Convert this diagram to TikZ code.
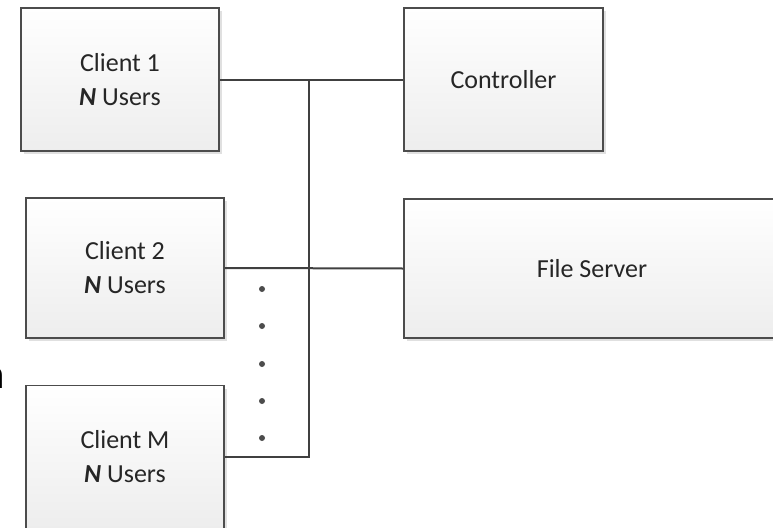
\documentclass[tikz,border=0pt]{standalone}
\usepackage{fontspec}
\setmainfont{Carlito}
\newfontfamily\edgefont{Liberation Sans}
\usetikzlibrary{positioning,shadows}

\begin{document}
\begin{tikzpicture}[x=1pt,y=-1pt,
	box/.style = {draw=black!70, line width=1.8pt, top color=white, bottom color=black!7,
		drop shadow={shadow xshift=3pt, shadow yshift=-3pt, fill=black!20, opacity=0.6},
		align=center, text=black!85, font=\fontsize{26}{34}\selectfont, inner sep=0pt},
	wire/.style = {draw=black!75, line width=2pt},
	dot/.style = {circle, fill=black!70, inner sep=0pt, minimum size=6pt}]
	\useasboundingbox (0,0) rectangle (773,527);
	\node[box, minimum width=198pt, minimum height=143pt] (c1) at (120,79.5) {Client 1\\\textbf{\textit{N}} Users};
	\node[box, minimum width=198pt, minimum height=140pt] (c2) at (125,268) {Client 2\\\textbf{\textit{N}} Users};
	\node[box, minimum width=198pt, minimum height=143pt] (cm) at (125,457) {Client M\\\textbf{\textit{N}} Users};
	\node[box, minimum width=199pt, minimum height=143pt] (ctrl) at (503.5,79.5) {Controller};
	\node[box, minimum width=376pt, minimum height=139pt] (fs) at (592,268.5) {File Server};
	\node[anchor=base east, inner sep=0pt, font=\edgefont\bfseries\fontsize{38}{40}\selectfont] (cut) at (4.5,388) {n};
	\coordinate (bustop) at (309,79.5);
	\foreach \i/\y in {1/289,2/326,3/364,4/401,5/438}
		\node[dot] (d\i) at (262,\y) {};
	\draw[wire] (c1.east) -- (ctrl.west);
	\draw[wire] (c2.east) -- (fs.west);
	\draw[wire] (cm.east) -| (bustop);
\end{tikzpicture}
\end{document}
